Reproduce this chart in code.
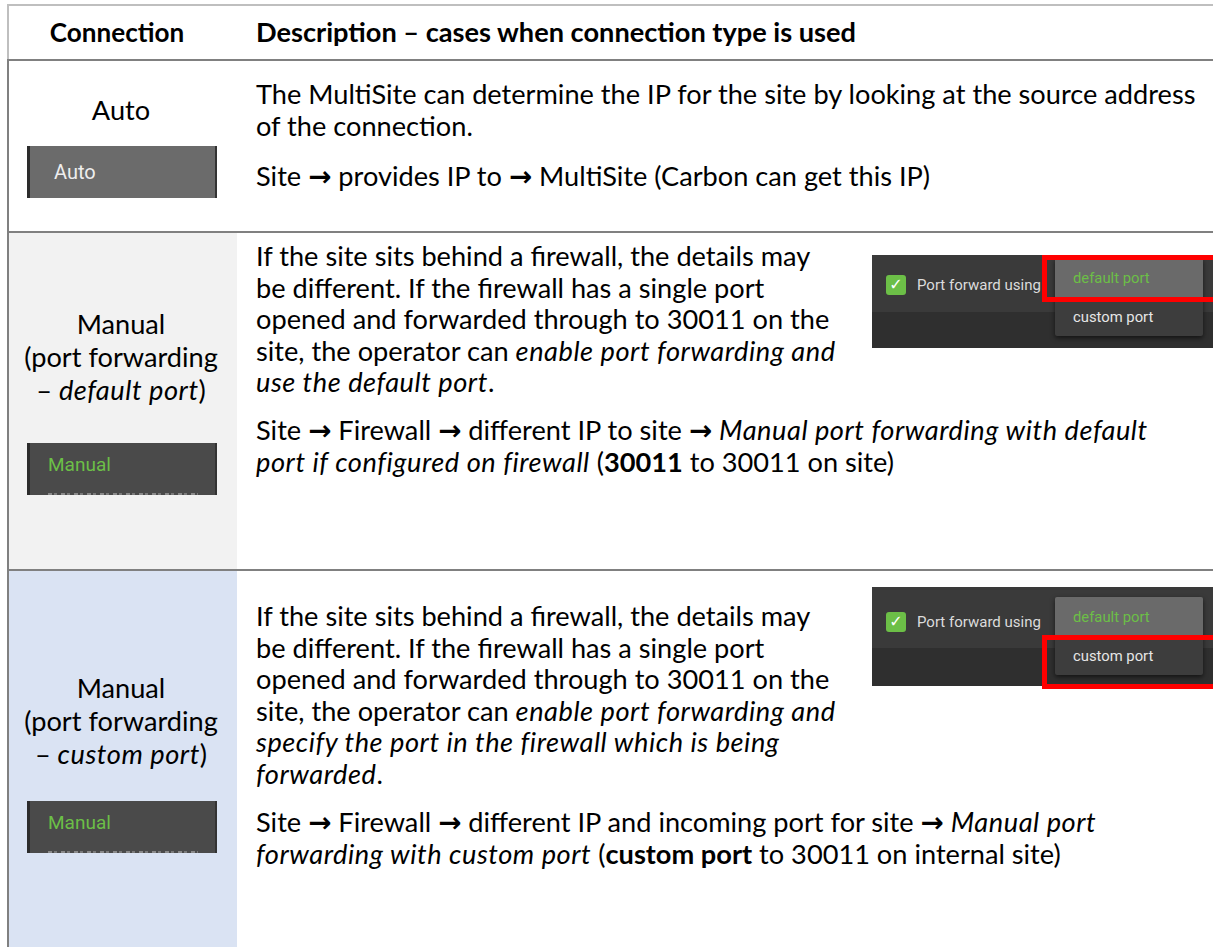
<!DOCTYPE html>
<html>
<head>
<meta charset="utf-8">
<script src="https://cdn.jsdelivr.net/npm/chart.js"></script>
<style>
  html, body { margin: 0; padding: 0; background: #fff; }
  #page { position: relative; width: 1213px; height: 947px; overflow: hidden; background: #fff; font-family: Lato, "Noto Sans", sans-serif; color: #000; }
  .ln { position: absolute; white-space: nowrap; }
  .ln i { letter-spacing: 0.55px; }
  .arr { font-family: "DejaVu Sans", sans-serif; font-weight: bold; font-size: 1.02em; letter-spacing: 0; }
  .rule { position: absolute; }
  .ui { position: absolute; font-family: Roboto, sans-serif; }
</style>
</head>
<body>
<div id="page"></div>
<script>
// ---- text content (data) ----
const headers = ["Connection", "Description \u2013 cases when connection type is used"];
const connectionLabels = [
  ["Auto"],
  ["Manual", "(port forwarding", "\u2013 <i>default port</i>)"],
  ["Manual", "(port forwarding", "\u2013 <i>custom port</i>)"]
];
const buttonLabels = ["Auto", "Manual", "Manual"];
const descriptionParagraphs = [
  [
    ["The MultiSite can determine the IP for the site by looking at the source address", "of the connection."],
    ["Site \u2192 provides IP to \u2192 MultiSite (Carbon can get this IP)"]
  ],
  [
    ["If the site sits behind a firewall, the details may", "be different. If the firewall has a single port", "opened and forwarded through to 30011 on the", "site, the operator can <i>enable port forwarding and</i>", "<i>use the default port</i>."],
    ["Site \u2192 Firewall \u2192 different IP to site \u2192 <i>Manual port forwarding with default</i>", "<i>port if configured on firewall</i> (<b>30011</b> to 30011 on site)"]
  ],
  [
    ["If the site sits behind a firewall, the details may", "be different. If the firewall has a single port", "opened and forwarded through to 30011 on the", "site, the operator can <i>enable port forwarding and</i>", "<i>specify the port in the firewall which is being</i>", "<i>forwarded</i>."],
    ["Site \u2192 Firewall \u2192 different IP and incoming port for site \u2192 <i>Manual port</i>", "<i>forwarding with custom port</i> (<b>custom port</b> to 30011 on internal site)"]
  ]
];
const uiCheckboxLabel = "Port forward using";
const uiMenuItems = ["default port", "custom port"];

// ---- layout ----
const page = document.getElementById('page');
const FAMILY = 'Lato, "Noto Sans", sans-serif';
const cv = document.createElement('canvas').getContext('2d');
cv.font = '100px ' + FAMILY;
const calib = cv.measureText(descriptionParagraphs[1][0][0]).width;
const FS = Math.max(22, Math.min(29, 555 / calib * 100));

function el(cls, css, html) {
  const d = document.createElement('div');
  d.className = cls;
  Object.assign(d.style, css);
  if (html !== undefined) d.innerHTML = html;
  page.appendChild(d);
  return d;
}
function fmt(s) { return s.replace(/\u2192/g, '<span class="arr">\u2192</span>'); }
function line(html, x, cy, opts) {
  opts = opts || {};
  const lh = 32;
  const css = { top: (cy - lh / 2) + 'px', height: lh + 'px', lineHeight: lh + 'px', fontSize: (opts.fs || FS) + 'px' };
  if (opts.center) { css.left = (x - 300) + 'px'; css.width = '600px'; css.textAlign = 'center'; }
  else css.left = x + 'px';
  if (opts.bold) css.fontWeight = 'bold';
  return el('ln', css, fmt(html));
}

const col1L = 9, col1R = 237, col1C = 121, descX = 256;
const rowTops = [61, 233, 571];
const rowBottoms = [233, 571, 947];
const col1Bg = ['#ffffff', '#f2f2f2', '#dae3f3'];

rowTops.forEach((t, i) => {
  el('rule', { left: col1L + 'px', top: t + 'px', width: (col1R - col1L) + 'px', height: (rowBottoms[i] - t) + 'px', background: col1Bg[i] });
});
el('rule', { left: '7px', top: '4px', width: '1206px', height: '2px', background: '#bfbfbf' });
el('rule', { left: '7px', top: '4px', width: '2px', height: '57px', background: '#bfbfbf' });
el('rule', { left: '7px', top: '59px', width: '2px', height: '900px', background: '#808080' });
[59, 231, 569].forEach(y => el('rule', { left: '7px', top: y + 'px', width: '1206px', height: '2px', background: '#808080' }));

// header
line(headers[0], col1C - 4, 32, { center: true, bold: true, fs: FS * 0.96 });
line(headers[1], descX, 32, { bold: true, fs: FS });

// column 1 labels
const labelStarts = [110, 324, 688];
const labelStep = 33;
connectionLabels.forEach((lines, r) => {
  lines.forEach((t, k) => line(t, col1C, labelStarts[r] + k * labelStep, { center: true }));
});

// description paragraphs
const paraStarts = [[94, 176], [256, 430], [616, 822]];
const lineStep = 31.6;
descriptionParagraphs.forEach((paras, r) => {
  paras.forEach((p, pi) => {
    p.forEach((t, k) => line(t, descX, paraStarts[r][pi] + k * lineStep));
  });
});

// connection buttons (UI screenshots)
const btnTops = [146, 443, 801];
const btnStyles = [
  { bg: '#6b6b6b', fg: '#eeeeee', left: 24, fs: 20 },
  { bg: '#4a4a4a', fg: '#6cbf47', left: 18, fs: 19 },
  { bg: '#4a4a4a', fg: '#6cbf47', left: 18, fs: 19 }
];
buttonLabels.forEach((b, i) => {
  const top = btnTops[i], h = 52, st = btnStyles[i];
  const box = el('ui', { left: '27px', top: top + 'px', width: '190px', height: h + 'px', background: st.bg, borderLeft: '3px solid #2c2c2c', borderRight: '2px solid #333', boxSizing: 'border-box', overflow: 'hidden' });
  const t = document.createElement('div');
  Object.assign(t.style, { position: 'absolute', left: st.left + 'px', top: '0px', height: (i === 0 ? h : h - 6) + 'px', lineHeight: (i === 0 ? h : h - 8) + 'px', fontSize: st.fs + 'px', color: st.fg, fontFamily: 'Roboto, sans-serif' });
  t.textContent = b;
  box.appendChild(t);
  if (i > 0) {
    const s = document.createElement('div');
    Object.assign(s.style, { position: 'absolute', left: '18px', width: '150px', bottom: '0px', height: '2px', background: 'repeating-linear-gradient(90deg, #8a8a8a 0 4px, transparent 4px 6px, #7a7a7a 6px 9px, transparent 9px 13px)' });
    box.appendChild(s);
  }
});

// port-forward screenshots
const shotTops = [255, 587];
const shotHeights = [93, 99];
const bandHeights = [57, 61];
const checkY = [285, 622];
const menuTops = [258, 597];
const redBoxes = [[255, 47], [635, 54]];
shotTops.forEach((top, i) => {
  const h = shotHeights[i];
  el('ui', { left: '872px', top: top + 'px', width: '341px', height: h + 'px', background: '#2f2f2f' });
  el('ui', { left: '872px', top: top + 'px', width: '341px', height: bandHeights[i] + 'px', background: '#3a3a3a' });
  const cbY = checkY[i];
  el('ui', { left: '886px', top: (cbY - 10) + 'px', width: '20px', height: '20px', background: '#6cbf47', borderRadius: '3px', color: '#fff', fontSize: '16px', lineHeight: '20px', textAlign: 'center', fontWeight: 'bold', fontFamily: '"DejaVu Sans", sans-serif' }, '\u2713');
  el('ui', { left: '917px', top: (cbY - 12) + 'px', height: '24px', lineHeight: '24px', fontSize: '15px', color: '#dcdcdc', whiteSpace: 'nowrap' }, uiCheckboxLabel);
  const mTop = menuTops[i];
  el('ui', { left: '1055px', top: mTop + 'px', width: '148px', height: '78px', background: '#3d3d3d', boxShadow: '0 2px 5px rgba(0,0,0,0.6)', borderRadius: '2px' });
  el('ui', { left: '1055px', top: mTop + 'px', width: '148px', height: '39px', background: '#6a6a6a', borderRadius: '2px 2px 0 0' });
  uiMenuItems.forEach((m, k) => {
    el('ui', { left: '1073px', top: (mTop + 20 + k * 38.5 - 13) + 'px', height: '26px', lineHeight: '26px', fontSize: '14.8px', color: k === 0 ? '#6cbf47' : '#e6e6e6', whiteSpace: 'nowrap' }, m);
  });
  const rb = redBoxes[i];
  el('ui', { left: '1042px', top: rb[0] + 'px', width: '176px', height: rb[1] + 'px', border: '5px solid #ff0000', boxSizing: 'border-box' });
});
</script>
</body>
</html>
